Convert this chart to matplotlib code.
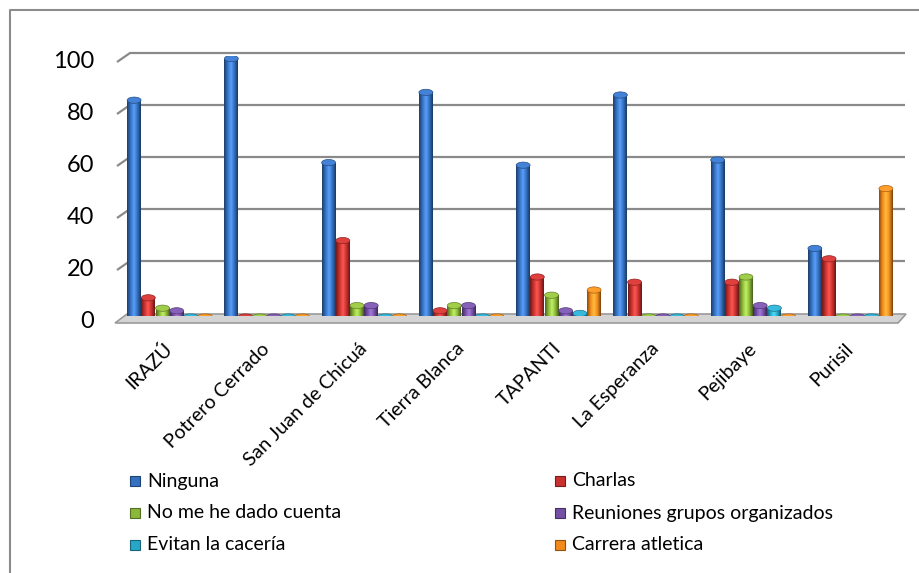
import numpy as np
import matplotlib
matplotlib.use('Agg')
import matplotlib.pyplot as plt
from matplotlib.patches import Ellipse, Polygon, Rectangle
from matplotlib.colors import LinearSegmentedColormap, to_rgb

plt.rcParams['font.family'] = ['Lato', 'DejaVu Sans']

sitios = ['IRAZÚ', 'Potrero Cerrado', 'San Juan de Chicuá', 'Tierra Blanca',
          'TAPANTI', 'La Esperanza', 'Pejibaye', 'Purisil']
ninguna = [83, 99, 59, 86, 58, 85, 60, 26]
charlas = [7, 0, 29, 2, 15, 13, 13, 22]
no_cuenta = [3, 0, 4, 4, 8, 0, 15, 0]
reuniones = [2, 0, 4, 4, 2, 0, 4, 0]
caceria = [0, 0, 0, 0, 1, 0, 3, 0]
carrera = [0, 0, 0, 0, 10, 0, 0, 49]

series = [
    ('Ninguna', ninguna, '#3470c0'),
    ('Charlas', charlas, '#c8312e'),
    ('No me he dado cuenta', no_cuenta, '#8cb83a'),
    ('Reuniones grupos organizados', reuniones, '#7450a4'),
    ('Evitan la cacería', caceria, '#27a6c8'),
    ('Carrera atletica', carrera, '#f28a1c'),
]
yticks = [0, 20, 40, 60, 80, 100]

W, H = 920, 573
fig = plt.figure(figsize=(W / 100, H / 100), dpi=100)

# pixel overlay for decorations
deco = fig.add_axes([0, 0, 1, 1], zorder=0)
deco.set_xlim(0, W)
deco.set_ylim(H, 0)
deco.axis('off')

# outer border
deco.plot([10, 10, W + 5], [H + 5, 10, 10], color='#8c8c8c', lw=1.5)

# main axes (back plane): value 0 at y=316, 100 at y=56
x0, x1 = 117, 895
yb0, yb1 = 316, 56
ax = fig.add_axes([x0 / W, 1 - yb0 / H, (x1 - x0) / W, (yb0 - yb1) / H], zorder=2)
ax.patch.set_alpha(0)
ax.axis('off')

# gridlines with the slanted left stub, tick labels and floor
for v in yticks:
    yb = yb0 - 3 - v * (yb0 - yb1) / 100
    if v > 0:
        deco.plot([117, 130, 905], [yb + 9, yb, yb], color='#8a8a8a', lw=1.6,
                  solid_capstyle='butt')
    deco.text(94, yb + 9, str(v), ha='right', va='center', fontsize=17,
              color='#000000')
floor = Polygon([[115, 323], [898, 323], [906, 314], [127, 314]], closed=True,
                facecolor='#d4d4d4', edgecolor='#9a9a9a', lw=1.2, zorder=1)
deco.add_patch(floor)

bw = 0.146
cap_h = 2.4


def shade_cmap(color):
    c = np.array(to_rgb(color))
    dark = c * 0.55
    light = np.clip(c * 1.15 + 0.12, 0, 1)
    return LinearSegmentedColormap.from_list('s', [dark, c, light, c, dark * 0.9])


grad = np.linspace(0, 1, 64).reshape(1, -1)
for i, (name, vals, color) in enumerate(series):
    cmap = shade_cmap(color)
    c = np.array(to_rgb(color))
    xs = np.arange(len(sitios)) - 0.5 + 0.103 + i * bw + bw / 2
    for xc, v in zip(xs, vals):
        h = max(v, 0.0)
        wdt = bw * 0.98
        left = xc - wdt / 2
        if h > 0:
            rect = Rectangle((left, 0), wdt, h, facecolor='none', edgecolor='none')
            ax.add_patch(rect)
            im = ax.imshow(grad, cmap=cmap, aspect='auto',
                           extent=[left, left + wdt, 0, h], zorder=3)
            im.set_clip_path(rect)
        ax.add_patch(Ellipse((xc, h), wdt, cap_h if h > 0 else 1.6,
                             facecolor=np.clip(c * 1.05 + 0.05, 0, 1),
                             edgecolor=c * 0.7, lw=0.5, zorder=4))
ax.set_xlim(-0.5, len(sitios) - 0.5)
ax.set_ylim(0, 100)

# category labels
for k, s in enumerate(sitios):
    xd, _ = ax.transData.transform((k, 0))
    fig.text((xd + 4) / W, 1 - 346 / H, s, rotation=45, ha='right', va='center',
             rotation_mode='anchor', fontsize=14)

# legend, row-major in two columns
for j, (name, _, color) in enumerate(series):
    col, row = j % 2, j // 2
    lx = 130 if col == 0 else 555
    ly = 481 + row * 32
    c = np.array(to_rgb(color))
    deco.add_patch(Rectangle((lx, ly - 5), 10, 10, facecolor=color,
                             edgecolor=c * 0.6, lw=0.8))
    deco.text(lx + 17, ly, name, ha='left', va='center', fontsize=14)

fig.savefig('out.png', dpi=100)
